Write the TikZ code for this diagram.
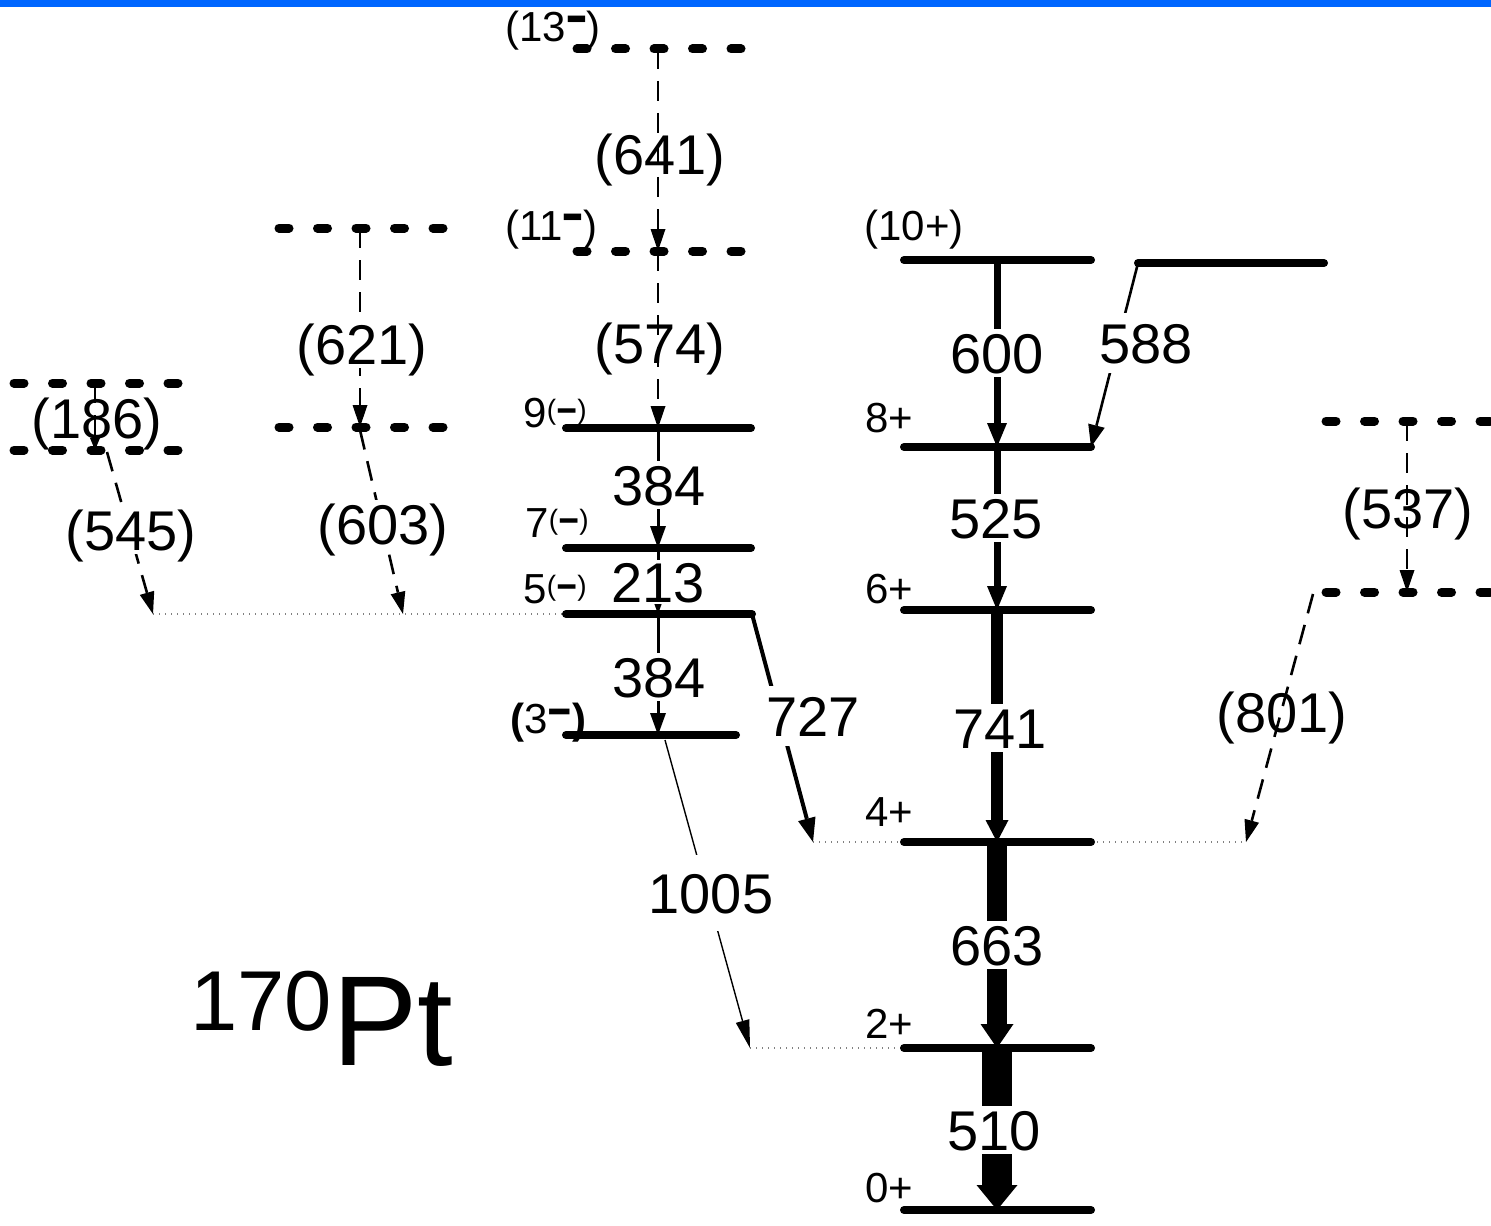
\documentclass[tikz,border=0pt]{standalone}
\usepackage{fontspec}
\setmainfont{Liberation Sans}
\usetikzlibrary{arrows.meta}
\definecolor{topblue}{RGB}{0,102,255}
\newcommand{\nbar}[3]{\raisebox{#3}{\scalebox{#1}[#2]{−}}}
\newcommand{\supneg}{\raisebox{4pt}{\fontsize{14}{14}\selectfont(\nbar{1.3}{2.2}{-6.2pt})}}
\begin{document}
\begin{tikzpicture}[x=0.5pt,y=-0.5pt,
  lev/.style={line width=4pt, line cap=round},
  dlev/.style={line width=4.5pt, line cap=round, dash pattern=on 5pt off 14.25pt},
  dotl/.style={draw=gray, line width=0.6pt, dash pattern=on 0.6pt off 2.4pt},
  dtr/.style={line width=1.3pt, dash pattern=on 10pt off 6pt, -{Triangle[length=11pt,width=7.5pt,line width=0pt]}},
  str/.style={line width=1.5pt, -{Triangle[length=11pt,width=8pt,line width=0pt]}},
  t727/.style={line width=2pt, -{Triangle[length=12pt,width=9pt,line width=0pt]}},
  t1005/.style={line width=0.7pt, -{Triangle[length=14pt,width=7pt,line width=0pt]}},
  t588/.style={line width=1.3pt, -{Triangle[length=11pt,width=8.5pt,line width=0pt]}},
  t600/.style={line width=3.5pt, -{Triangle[length=12pt,width=10pt,line width=0pt]}},
  t741/.style={line width=6pt, -{Triangle[length=11pt,width=11.5pt,line width=0pt]}},
  t663/.style={line width=10pt, -{Triangle[length=12pt,width=16.5pt,line width=0pt]}},
  t510/.style={line width=15pt, -{Triangle[length=12.5pt,width=20.5pt,line width=0pt]}},
  bigl/.style={font=\fontsize{28}{30}\selectfont, text height=20pt, text depth=0pt, inner sep=2pt},
  bigf/.style={bigl, fill=white},
  smalll/.style={font=\fontsize{21}{24}\selectfont, text height=15pt, text depth=0pt, inner sep=0pt, anchor=base west}
]
\useasboundingbox (0,0) rectangle (1491,1225);
\fill[white] (0,0) rectangle (1491,1225);
\fill[topblue] (0,0) rectangle (1491,7);

% ---- coordinates ----
\coordinate (A1) at (95,383);  \coordinate (A2) at (95,450); \coordinate (A2s) at (107,452);
\coordinate (B1) at (360,228); \coordinate (B2) at (360,427); \coordinate (B2s) at (360,430);
\coordinate (C13) at (658,49); \coordinate (C11) at (658,251); \coordinate (C9) at (658,428);
\coordinate (C7) at (658,548); \coordinate (C5) at (658,614); \coordinate (C3) at (658,735);
\coordinate (C5r) at (752,614); \coordinate (C3s) at (665,740);
\coordinate (D10) at (997,260); \coordinate (D8) at (997,447); \coordinate (D6) at (997,610);
\coordinate (D4) at (997,842); \coordinate (D2) at (997,1048); \coordinate (D0) at (997,1210);
\coordinate (D8r) at (1091,447); \coordinate (E10) at (1138,263);
\coordinate (F1) at (1407,421); \coordinate (F2) at (1407,592); \coordinate (F2l) at (1313,594);
\coordinate (P545) at (153,614); \coordinate (P603) at (403,614); \coordinate (P5l) at (566,614);
\coordinate (P727) at (813,842); \coordinate (P801) at (1246,842);
\coordinate (D4l) at (904,842); \coordinate (D4r) at (1091,842);
\coordinate (P1005) at (750,1048); \coordinate (D2l) at (904,1048);

% ---- dotted feeding lines ----
\draw[dotl] (P545) -- (P5l);
\draw[dotl] (P727) -- (D4l);
\draw[dotl] (D4r) -- (P801);
\draw[dotl] (P1005) -- (D2l);

% ---- transitions ----
\draw[dtr, -{Triangle[length=6pt,width=5pt,line width=0pt]}] (A1) -- (A2);
\draw[dtr] (A2s) -- (P545);
\draw[dtr] (B1) -- (B2);
\draw[dtr] (B2s) -- (P603);
\draw[dtr] (C13) -- (C11);
\draw[dtr] (C11) -- (C9);
\draw[str] (C9) -- (C7);
\draw[str] (C7) -- (C5);
\draw[str] (C5) -- (C3);
\draw[t727] (C5r) -- (P727);
\draw[t1005] (C3s) -- (P1005);
\draw[t600] (D10) -- (D8);
\draw[t588] (E10) -- (D8r);
\draw[t600] (D8) -- (D6);
\draw[t741] (D6) -- (D4);
\draw[t663] (D4) -- (D2);
\draw[t510] (D2) -- (D0);
\draw[dtr] (F1) -- (F2);
\draw[dtr] (F2l) -- (P801);

% ---- dashed levels ----
\draw[dlev] (14,383) -- ++(164,0);
\draw[dlev] (14,450) -- ++(164,0);
\draw[dlev] (279,228) -- ++(164,0);
\draw[dlev] (279,427) -- ++(164,0);
\draw[dlev] (577,49) -- ++(164,0);
\draw[dlev] (577,251) -- ++(164,0);
\draw[dlev] (1326,421) -- ++(164,0);
\draw[dlev] (1326,592) -- ++(164,0);

% ---- solid levels ----
\draw[lev] (566,428) -- (751,428);
\draw[lev] (566,548) -- (751,548);
\draw[lev] (566,614) -- (C5r);
\draw[lev] (566,735) -- (736,735);
\draw[lev] (904,260) -- (1091,260);
\draw[lev] (E10) -- (1324,263);
\draw[lev] (904,447) -- (D8r);
\draw[lev] (904,610) -- (1091,610);
\draw[lev] (D4l) -- (D4r);
\draw[lev] (D2l) -- (1091,1048);
\draw[lev] (904,1210) -- (1091,1210);

% ---- transition labels ----
\node[bigl] (g186) at (97,418) {(186)};
\node[bigf] (g545) at (131,530) {(545)};
\node[bigf] (g621) at (362,344) {(621)};
\node[bigf] (g603) at (383,524) {(603)};
\node[bigl] (g641) at (660,155) {(641)};
\node[bigl] (g574) at (660,343) {(574)};
\node[bigf] (g384a) at (659,485) {384};
\node[bigf, inner sep=1pt] (g213) at (658,582) {213};
\node[bigf] (g384b) at (659,677) {384};
\node[bigf, inner ysep=5pt] (g727) at (813,716) {727};
\node[bigf, inner ysep=9pt] (g1005) at (711,893) {1005};
\node[bigf] (g600) at (997,353) {600};
\node[bigf, inner ysep=5pt] (g588) at (1146,343) {588};
\node[bigf] (g525) at (996,518) {525};
\node[bigf] (g741) at (1000,728) {741};
\node[bigf] (g663) at (997,945) {663};
\node[bigf] (g510) at (994,1130) {510};
\node[bigl] (g537) at (1408,508) {(537)};
\node[bigl] (g801) at (1282,712) {(801)};

% ---- level labels ----
\node[smalll] (s13) at (505,42) {(13\nbar{0.85}{2.16}{-3.8pt})};
\node[smalll] (s11) at (505,240) {(11\nbar{0.85}{2.16}{-3.8pt})};
\node[smalll] (s9) at (523,427) {9\supneg};
\node[smalll] (s7) at (525,537) {7\supneg};
\node[smalll] (s5) at (523,603) {5\supneg};
\node[smalll] (s3) at (510,733) {\textbf{(}3\nbar{1.0}{1.9}{-2.75pt}\textbf{)}};
\node[smalll] (s10) at (864,241) {(10+)};
\node[smalll] (s8) at (865,432) {8+};
\node[smalll] (s6) at (865,603) {6+};
\node[smalll] (s4) at (865,826) {4+};
\node[smalll] (s2) at (865,1038) {2+};
\node[smalll] (s0) at (865,1202) {0+};

% ---- nucleus ----
\node[anchor=base west, inner sep=0pt] (nuc) at (190,1065)
  {\fontsize{64}{64}\selectfont\raisebox{17.5pt}{\fontsize{42.5}{43}\selectfont 170}Pt};
\end{tikzpicture}
\end{document}
